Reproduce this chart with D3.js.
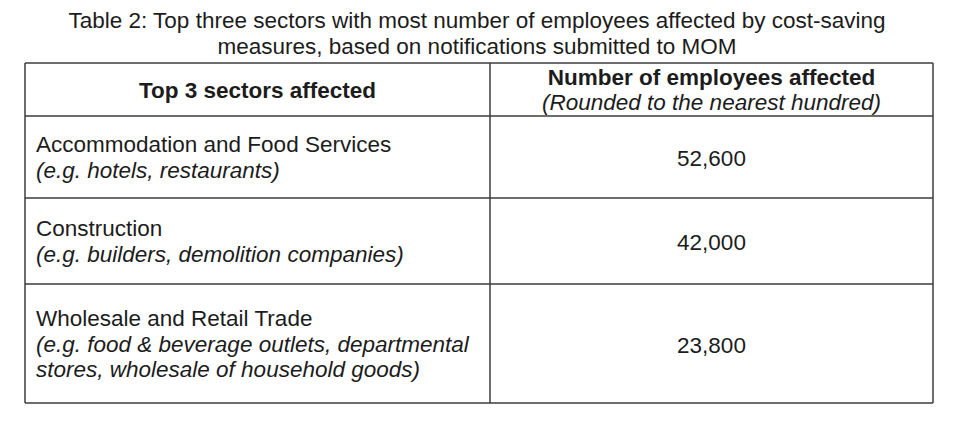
<!DOCTYPE html>
<html>
<head>
<meta charset="utf-8">
<script src="https://cdn.jsdelivr.net/npm/d3@7"></script>
<style>
  html, body { margin: 0; padding: 0; background: #fff; }
  svg { display: block; font-family: "Liberation Sans", Arial, sans-serif; }
</style>
</head>
<body>
<svg id="chart" width="960" height="425"></svg>
<script>
// ---- data ----
const titleLines = [
  "Table 2: Top three sectors with most number of employees affected by cost-saving",
  "measures, based on notifications submitted to MOM"
];
const headerCol1 = ["Top 3 sectors affected"];
const headerCol2 = ["Number of employees affected", "(Rounded to the nearest hundred)"];
const sectors = [
  "Accommodation and Food Services",
  "Construction",
  "Wholesale and Retail Trade"
];
const examples = [
  ["(e.g. hotels, restaurants)"],
  ["(e.g. builders, demolition companies)"],
  ["(e.g. food & beverage outlets, departmental", "stores, wholesale of household goods)"]
];
const employees = [52600, 42000, 23800];

// ---- layout ----
const svg = d3.select("#chart");
const fontSize = 22.5;
const lineH = 25.3;
const textColor = "#1c1c1c";
const borderColor = "#3c3c3c";
const xLeft = 25, xMid = 490, xRight = 933;
const tableTop = 63;
const headerH = 53;
const rowHeights = [82, 86, 119];

// row boundaries
const bounds = [tableTop, tableTop + headerH];
rowHeights.forEach(h => bounds.push(bounds[bounds.length - 1] + h));
const rowIdx = d3.range(sectors.length);

const fmt = d3.format(",");
const capH = fontSize * 0.716;

// title
svg.append("g").selectAll("text")
  .data(titleLines)
  .join("text")
  .attr("x", 477)
  .attr("y", (d, i) => 28 + i * 26)
  .attr("text-anchor", "middle")
  .attr("font-size", fontSize)
  .attr("fill", textColor)
  .text(d => d);

// helper for centred multi-line block
function lineBaselines(y0, y1, n) {
  const c = (y0 + y1) / 2;
  const firstCapCenter = c - (n - 1) * lineH / 2;
  return d3.range(n).map(i => firstCapCenter + i * lineH + capH / 2);
}

// header
const hb1 = lineBaselines(bounds[0], bounds[1], headerCol1.length);
svg.append("g").selectAll("text")
  .data(headerCol1)
  .join("text")
  .attr("x", (xLeft + xMid) / 2)
  .attr("y", (d, i) => hb1[i])
  .attr("text-anchor", "middle")
  .attr("font-size", fontSize)
  .attr("font-weight", "bold")
  .attr("fill", textColor)
  .text(d => d);

const hb2 = lineBaselines(bounds[0] - 1, bounds[1] + 1, headerCol2.length);
svg.append("g").selectAll("text")
  .data(headerCol2)
  .join("text")
  .attr("x", (xMid + xRight) / 2)
  .attr("y", (d, i) => hb2[i])
  .attr("text-anchor", "middle")
  .attr("font-size", fontSize)
  .attr("font-weight", (d, i) => i === 0 ? "bold" : "normal")
  .attr("font-style", (d, i) => i === 0 ? "normal" : "italic")
  .attr("fill", textColor)
  .text(d => d);

// body rows
const rows = svg.append("g").selectAll("g.row")
  .data(rowIdx)
  .join("g")
  .attr("class", "row");

rows.each(function(i) {
  const g = d3.select(this);
  const y0 = bounds[i + 1], y1 = bounds[i + 2];
  const lines = [{ t: sectors[i], it: false }].concat(examples[i].map(t => ({ t, it: true })));
  const bl = lineBaselines(y0, y1, lines.length);
  g.selectAll("text.cat")
    .data(lines)
    .join("text")
    .attr("class", "cat")
    .attr("x", xLeft + 11)
    .attr("y", (d, j) => bl[j])
    .attr("font-size", fontSize)
    .attr("font-style", d => d.it ? "italic" : "normal")
    .attr("fill", textColor)
    .text(d => d.t);
  g.append("text")
    .attr("x", (xMid + xRight) / 2)
    .attr("y", (y0 + y1) / 2 + capH / 2 + 1)
    .attr("text-anchor", "middle")
    .attr("font-size", fontSize)
    .attr("fill", textColor)
    .text(fmt(employees[i]));
});

// borders
const grid = svg.append("g")
  .attr("stroke", borderColor)
  .attr("stroke-width", 1.5)
  .attr("fill", "none");
grid.selectAll("line.h")
  .data(bounds)
  .join("line")
  .attr("class", "h")
  .attr("x1", xLeft).attr("x2", xRight)
  .attr("y1", d => d).attr("y2", d => d);
grid.selectAll("line.v")
  .data([xLeft, xMid, xRight])
  .join("line")
  .attr("class", "v")
  .attr("x1", d => d).attr("x2", d => d)
  .attr("y1", bounds[0]).attr("y2", bounds[bounds.length - 1]);
</script>
</body>
</html>
